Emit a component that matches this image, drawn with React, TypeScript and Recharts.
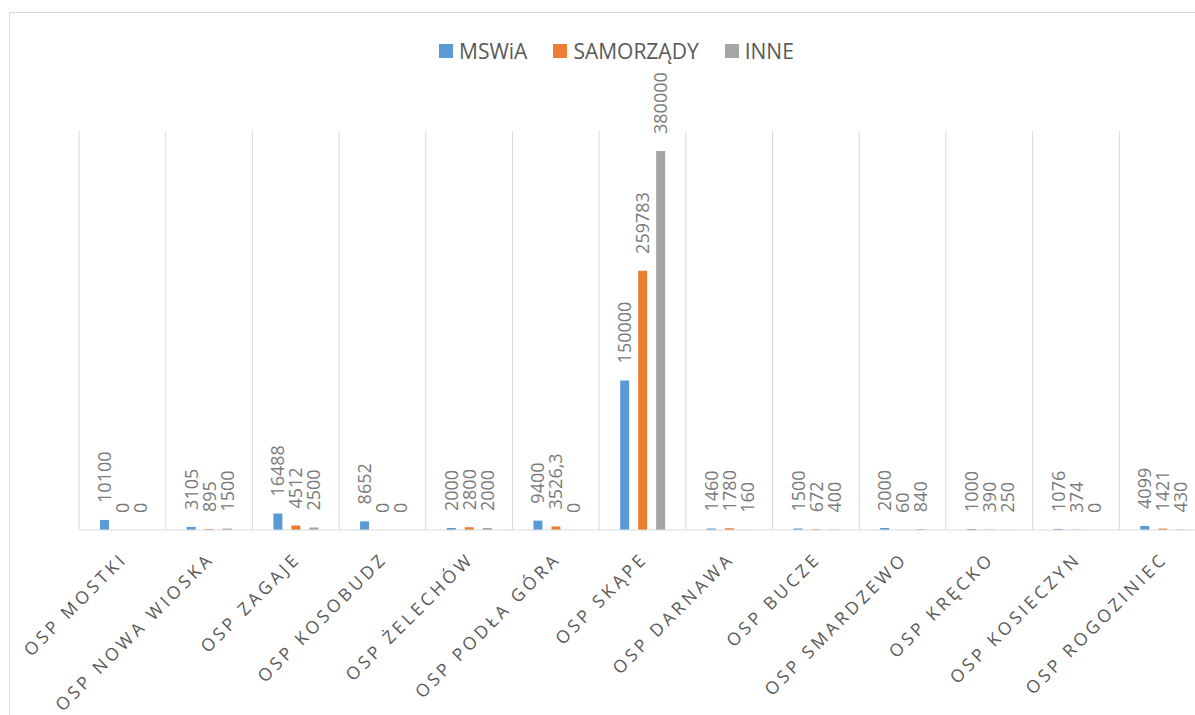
import { BarChart, Bar, XAxis, YAxis, CartesianGrid, Legend, LabelList } from "recharts"

const stations = [
  "OSP MOSTKI",
  "OSP NOWA WIOSKA",
  "OSP ZAGAJE",
  "OSP KOSOBUDZ",
  "OSP ŻELECHÓW",
  "OSP PODŁA GÓRA",
  "OSP SKĄPE",
  "OSP DARNAWA",
  "OSP BUCZE",
  "OSP SMARDZEWO",
  "OSP KRĘCKO",
  "OSP KOSIECZYN",
  "OSP ROGOZINIEC",
]
const mswia = [10100, 3105, 16488, 8652, 2000, 9400, 150000, 1460, 1500, 2000, 1000, 1076, 4099]
const samorzady = [0, 895, 4512, 0, 2800, 3526.3, 259783, 1780, 672, 60, 390, 374, 1421]
const inne = [0, 1500, 2500, 0, 2000, 0, 380000, 160, 400, 840, 250, 0, 430]

const seriesNames = ["MSWiA", "SAMORZĄDY", "INNE"]
const seriesColors = ["#5B9BD5", "#ED7D31", "#A5A5A5"]

const chartData = stations.map((name, i) => ({
  name,
  mswia: mswia[i],
  samorzady: samorzady[i],
  inne: inne[i],
}))

// Excel-like value label: rotated, sitting above the bar
const renderValueLabel = (props: any) => {
  const { x, y, width, height, value } = props
  const cx = Number(x) + Number(width) / 2
  // bars may be negative-height oriented; use the upper edge
  const barTop = Math.min(Number(y), Number(y) + Number(height || 0))
  const top = barTop - 17
  const text = String(value).replace(".", ",")
  return (
    <text
      x={cx + 6.5}
      y={top}
      transform={`rotate(-90, ${cx + 6.5}, ${top})`}
      fill="#7a7a7a"
      fontSize={18}
      textAnchor="start"
    >
      {text}
    </text>
  )
}

const renderTick = (props: any) => {
  const { x, y, payload } = props
  const ax = x + 6
  const ay = y + 30
  return (
    <text
      x={ax}
      y={ay}
      transform={`rotate(-45, ${ax}, ${ay})`}
      textAnchor="end"
      fill="#595959"
      fontSize={17.5}
      letterSpacing={3.5}
    >
      {payload.value}
    </text>
  )
}

const renderLegend = () => (
  <div style={{ display: "flex", alignItems: "center", height: 30 }}>
    {seriesNames.map((name, i) => (
      <div key={name} style={{ display: "flex", alignItems: "center", marginRight: 26 }}>
        <span style={{ width: 14, height: 14, background: seriesColors[i], marginRight: 6 }} />
        <span style={{ fontSize: 21, color: "#595959" }}>{name}</span>
      </div>
    ))}
  </div>
)

// gridlines on the category boundaries, not on the centres
const boundaryLines = ({ offset }: any) => {
  const step = offset.width / stations.length
  return stations.map((_, i) => offset.left + i * step).concat(offset.left + offset.width)
}

export default function App() {
  return (
    <div style={{ position: "fixed", left: 0, top: 0, width: 1195, height: 715, overflow: "hidden", background: "#fff" }}>
      <div
        style={{
          position: "absolute",
          left: 9,
          top: 12,
          width: 1240,
          height: 740,
          border: "1px solid #d9d9d9",
          fontFamily: "'Open Sans', sans-serif",
        }}
      >
        <BarChart
          width={1240}
          height={740}
          data={chartData}
          margin={{ top: 88, right: 44, bottom: 23, left: 69 }}
          barSize={9}
          barGap={9}
        >
          <CartesianGrid
            horizontal={false}
            stroke="#d9d9d9"
            verticalCoordinatesGenerator={boundaryLines}
          />
          <XAxis
            dataKey="name"
            interval={0}
            height={200}
            axisLine={{ stroke: "#d9d9d9" }}
            tickLine={false}
            tickSize={0}
            tickMargin={0}
            tick={renderTick}
          />
          <YAxis hide domain={[0, 400000]} />
          <Legend
            verticalAlign="top"
            content={renderLegend}
            wrapperStyle={{ top: 23, left: 429, width: "auto", height: 30 }}
          />
          <Bar dataKey="mswia" name={seriesNames[0]} fill={seriesColors[0]} minPointSize={0.01} isAnimationActive={false}>
            <LabelList dataKey="mswia" content={renderValueLabel} />
          </Bar>
          <Bar dataKey="samorzady" name={seriesNames[1]} fill={seriesColors[1]} minPointSize={0.01} isAnimationActive={false}>
            <LabelList dataKey="samorzady" content={renderValueLabel} />
          </Bar>
          <Bar dataKey="inne" name={seriesNames[2]} fill={seriesColors[2]} minPointSize={0.01} isAnimationActive={false}>
            <LabelList dataKey="inne" content={renderValueLabel} />
          </Bar>
        </BarChart>
      </div>
    </div>
  )
}
